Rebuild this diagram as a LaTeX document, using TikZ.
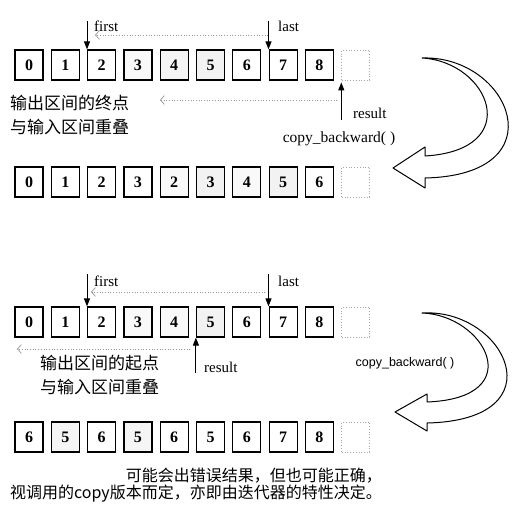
\documentclass[tikz,border=0pt]{standalone}
\usepackage{fontspec}
\setmainfont{Liberation Serif}
\setsansfont{Liberation Sans}
\newfontfamily\cjk{Noto Sans CJK SC}
\usetikzlibrary{arrows.meta}
\tikzset{cell/.style={draw, line width=1.2pt, minimum width=28pt, minimum height=30pt, inner sep=0pt, font=\bfseries\fontsize{16}{16}\selectfont},
spare/.style={draw=gray!70, dotted, line width=0.8pt, minimum width=28pt, minimum height=30pt, inner sep=0pt},
ptr/.style={-{Triangle[length=8pt, width=6pt]}, line width=1pt},
span/.style={-{Straight Barb[length=4pt, width=9pt]}, dotted, draw=gray!80, line width=0.7pt},
lbl/.style={inner sep=1pt, font=\fontsize{15}{15}\selectfont},
note/.style={inner sep=0pt, align=left, font=\cjk\fontsize{17}{24}\selectfont},
turn/.style={draw, fill=white, line width=1pt, line join=round}}

\begin{document}
\begin{tikzpicture}[x=1pt, y=-1pt]
  \useasboundingbox (0,0) rectangle (526,521);
  % first case: output end inside input range
  \foreach \v/\c [count=\i from 0] in {0/white,1/white,2/white,3/gray!5,4/gray!8,5/gray!10,6/white,7/white,8/white}
    \node[cell, fill=\c] (a\i) at (29+36.3*\i, 65) {\v};
  \node[spare] (a9) at (29+36.3*9, 65) {};
  \coordinate (af) at ([yshift=28pt]a2.north west);
  \coordinate (al) at ([yshift=28pt]a7.north west);
  \coordinate (ar) at ([yshift=-40pt]a9.south west);
  \draw[ptr] (af) -- (a2.north west);
  \draw[ptr] (al) -- (a7.north west);
  \draw[ptr, shorten >=2pt] (ar) -- (a9.south west);
  \node[lbl, anchor=west] (afirst) at (93,26) {first};
  \node[lbl, anchor=west] (alast) at (277,26) {last};
  \node[lbl, anchor=west] (aresult) at (352,113) {result};
  \coordinate (aspan1) at (268,35); \coordinate (aspan0) at (95,35);
  \draw[span] (aspan1) -- (aspan0);
  \coordinate (aout1) at (337,100); \coordinate (aout0) at (160,100);
  \draw[span] (aout1) -- (aout0);
  \node[note, anchor=west] (anote) at (10,115) {输出区间的终点\\与输入区间重叠};
  \node[lbl, font=\fontsize{15.5}{16}\selectfont] (acall) at (339,139) {copy\_backward( )};
  \draw[turn] (422,58) .. controls (510,55) and (560,175) .. (425,178) -- (425,188) -- (393,168) -- (425,147) -- (425,156) .. controls (525,150) and (490,62) .. (422,58) -- cycle;
  \foreach \v/\c [count=\i from 0] in {0/white,1/white,2/white,3/white,2/gray!5,3/gray!10,4/gray!5,5/gray!10,6/white}
    \node[cell, fill=\c] (b\i) at (29+36.3*\i, 182) {\v};
  \node[spare] (b9) at (29+36.3*9, 182) {};
  % second case: output start inside input range
  \foreach \v/\c [count=\i from 0] in {0/white,1/white,2/white,3/gray!5,4/gray!5,5/gray!10,6/white,7/white,8/white}
    \node[cell, fill=\c] (c\i) at (29+36.3*\i, 322) {\v};
  \node[spare] (c9) at (29+36.3*9, 322) {};
  \coordinate (cf) at ([yshift=32pt]c2.north west);
  \coordinate (cl) at ([yshift=32pt]c7.north west);
  \coordinate (cr) at ([yshift=-35pt]c5.south west);
  \draw[ptr] (cf) -- (c2.north west);
  \draw[ptr] (cl) -- (c7.north west);
  \draw[ptr] (cr) -- (c5.south west);
  \node[lbl, anchor=west] (cfirst) at (93,281) {first};
  \node[lbl, anchor=west] (clast) at (277,281) {last};
  \node[lbl, anchor=west] (cresult) at (203,367) {result};
  \coordinate (cspan1) at (265,292); \coordinate (cspan0) at (91,292);
  \draw[span] (cspan1) -- (cspan0);
  \coordinate (cout1) at (190,349); \coordinate (cout0) at (17,349);
  \draw[span] (cout1) -- (cout0);
  \node[note, anchor=west] (cnote) at (40,375) {输出区间的起点\\与输入区间重叠};
  \node[font=\sffamily\fontsize{12.5}{13}\selectfont] (ccall) at (405,363) {copy\_backward( )};
  \draw[turn] (422,313) .. controls (505,308) and (560,420) .. (427,423) -- (427,431) -- (395,412) -- (427,394) -- (427,402) .. controls (530,398) and (485,315) .. (422,313) -- cycle;
  \foreach \v/\c [count=\i from 0] in {6/white,5/gray!8,6/white,5/gray!8,6/white,5/white,6/white,7/white,8/white}
    \node[cell, fill=\c] (d\i) at (29+36.3*\i, 437) {\v};
  \node[spare] (d9) at (29+36.3*9, 437) {};
  \node[inner sep=0pt, align=right, anchor=east, font=\cjk\fontsize{16}{17}\selectfont] (dnote) at (382,485) {可能会出错误结果，但也可能正确，\\视调用的copy版本而定，亦即由迭代器的特性决定。};
\end{tikzpicture}
\end{document}
